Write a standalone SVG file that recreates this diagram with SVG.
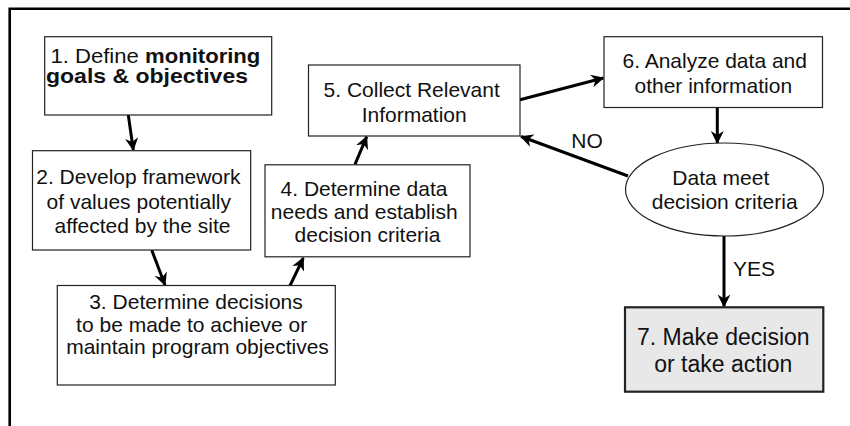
<svg xmlns="http://www.w3.org/2000/svg" width="850" height="426" viewBox="0 0 850 426">
<defs>
<style>
text{font-family:"Liberation Sans",Arial,sans-serif;font-size:21px;fill:#111;text-anchor:middle}
.b{font-weight:bold}
.big{font-size:23px}
.box{fill:#fff;stroke:#222;stroke-width:1.2}
.box7{fill:#e8e8e8;stroke:#222;stroke-width:2.2}
.c{stroke:#000;stroke-width:3;fill:none;marker-end:url(#ah)}
</style>
<marker id="ah" markerUnits="userSpaceOnUse" markerWidth="14" markerHeight="14" refX="12" refY="6.5" orient="auto" viewBox="0 0 14 13">
<path d="M0,0 L13,6.5 L0,13 L4,6.5 Z" fill="#000"/>
</marker>
</defs>
<rect width="850" height="426" fill="#fff"/>
<path d="M9.7,426 V8.7 H850" fill="none" stroke="#000" stroke-width="2.6"/>

<g id="connectors">
<line class="c" x1="128.3" y1="115" x2="133.3" y2="150"/>
<line class="c" x1="151.7" y1="250" x2="165" y2="285"/>
<line class="c" x1="290" y1="285.7" x2="303.3" y2="258"/>
<line class="c" x1="355" y1="164.3" x2="366.7" y2="136.7"/>
<line class="c" x1="519" y1="100" x2="603.3" y2="78"/>
<line class="c" x1="717.3" y1="108" x2="717.3" y2="143"/>
<line class="c" x1="628" y1="176" x2="521" y2="136.5"/>
<line class="c" x1="724" y1="236" x2="724" y2="306.5"/>
<text x="587" y="148.3">NO</text>
<text x="754" y="275.7">YES</text>
</g>

<g id="n1">
<rect class="box" x="44.7" y="36.7" width="227" height="78.3"/>
<text x="155.4" y="63" textLength="210" lengthAdjust="spacingAndGlyphs">1.  Define <tspan class="b">monitoring</tspan></text>
<text class="b" x="147" y="83" textLength="202" lengthAdjust="spacingAndGlyphs">goals &amp; objectives</text>
</g>

<g id="n2">
<rect class="box" x="32.5" y="150.7" width="218.2" height="99.3"/>
<text x="138.4" y="184">2. Develop framework</text>
<text x="138.8" y="208.5">of values potentially</text>
<text x="142.5" y="233">affected by the site</text>
</g>

<g id="n3">
<rect class="box" x="57.3" y="285.5" width="278" height="99.5"/>
<text x="196" y="309.3">3. Determine decisions</text>
<text x="191.7" y="331.7">to be made to achieve or</text>
<text x="197.5" y="354">maintain program objectives</text>
</g>

<g id="n4">
<rect class="box" x="265" y="164.8" width="205" height="92"/>
<text x="364" y="195.7">4. Determine data</text>
<text x="364.2" y="219">needs and establish</text>
<text x="367.5" y="242.3">decision criteria</text>
</g>

<g id="n5">
<rect class="box" x="308.5" y="65" width="211.5" height="71"/>
<text x="411.7" y="96.7">5. Collect Relevant</text>
<text x="414.2" y="121.7">Information</text>
</g>

<g id="n6">
<rect class="box" x="604" y="36.7" width="218.5" height="70.8"/>
<text x="714.7" y="68.3">6. Analyze data and</text>
<text x="713.3" y="93.3">other information</text>
</g>

<g id="decision">
<ellipse class="box" cx="724.5" cy="189.5" rx="99" ry="46.5"/>
<text x="720.8" y="185">Data meet</text>
<text x="724.7" y="209.3">decision criteria</text>
</g>

<g id="n7">
<rect class="box7" x="625" y="307.3" width="198.3" height="84.4"/>
<text class="big" x="723.3" y="345">7.  Make decision</text>
<text class="big" x="723.3" y="371.7">or take action</text>
</g>
</svg>
